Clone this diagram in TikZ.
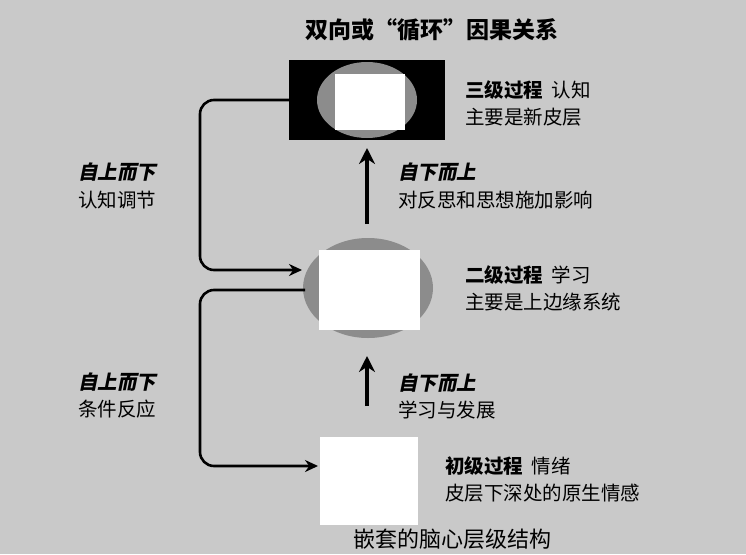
\documentclass[tikz,border=0pt]{standalone}
\usepackage{fontspec}
\setmainfont{Noto Sans CJK SC}
\usetikzlibrary{arrows.meta,shapes.geometric}
\definecolor{bg}{HTML}{C9C9C9}
\definecolor{ell}{HTML}{8C8C8C}
\newcommand{\slbf}[1]{{\bfseries\addfontfeature{FakeSlant=0.2}#1}}
\begin{document}
\begin{tikzpicture}[x=1pt,y=-1pt,
  lbl/.style={font=\fontsize{19.5}{22}\selectfont,anchor=west,align=left,inner sep=0},
  conn/.style={line width=2.6pt,rounded corners=14pt,-{Stealth[length=13pt,width=12pt]}},
  up/.style={line width=3.4pt,-{Stealth[length=16pt,width=16pt]}}]
\fill[bg] (0,0) rectangle (746,554);
\node[font=\fontsize{23}{26}\selectfont\bfseries] (title) at (432,30) {双向或“循环”因果关系};
% top
\node[fill=black,minimum width=156pt,minimum height=80pt,inner sep=0] (top) at (367,100) {};
\fill[ell] (367,100) ellipse (50 and 38);
\fill[white] (335,74) rectangle (405,130);
\node[lbl] (t1) at (465,90) {\textbf{三级过程}\ \ 认知};
\node[lbl] (t2) at (465,117) {主要是新皮层};
% middle
\node[fill=ell,ellipse,minimum width=130pt,minimum height=100pt,inner sep=0] (mid) at (368,288) {};
\fill[white] (319,250) rectangle (420,330);
\node[lbl] (m1) at (465,275) {\textbf{二级过程}\ \ 学习};
\node[lbl] (m2) at (465,302) {主要是上边缘系统};
% bottom
\node[fill=white,minimum width=98pt,minimum height=88pt,inner sep=0] (bot) at (369,481) {};
\node[lbl] (b1) at (445,466) {\textbf{初级过程}\ \ 情绪};
\node[lbl] (b2) at (445,493) {皮层下深处的原生情感};
\node[font=\fontsize{22}{24}\selectfont] (cap) at (452,539) {嵌套的脑心层级结构};
% up arrows
\coordinate (u1) at (367,224); \coordinate (u1e) at (367,148);
\draw[up] (u1) -- (u1e);
\coordinate (u2) at (367,406); \coordinate (u2e) at (367,356);
\draw[up] (u2) -- (u2e);
\node[lbl] (a1) at (398,172) {\slbf{自下而上}};
\node[lbl] (a2) at (398,200) {对反思和思想施加影响};
\node[lbl] (a3) at (398,383) {\slbf{自下而上}};
\node[lbl] (a4) at (398,410) {学习与发展};
% left connectors
\coordinate (c1) at (200,100); \coordinate (c2) at (200,270);
\draw[conn] (top.west) -- (c1) -- (c2) -- (302,270);
\coordinate (c3) at (200,290); \coordinate (c4) at (200,466);
\coordinate (be) at (318,466);
\draw[conn] (305,290) -- (c3) -- (c4) -- (be);
\node[lbl] (l1) at (78,172) {\slbf{自上而下}};
\node[lbl] (l2) at (78,200) {认知调节};
\node[lbl] (l3) at (78,382) {\slbf{自上而下}};
\node[lbl] (l4) at (78,409) {条件反应};
\end{tikzpicture}
\end{document}
